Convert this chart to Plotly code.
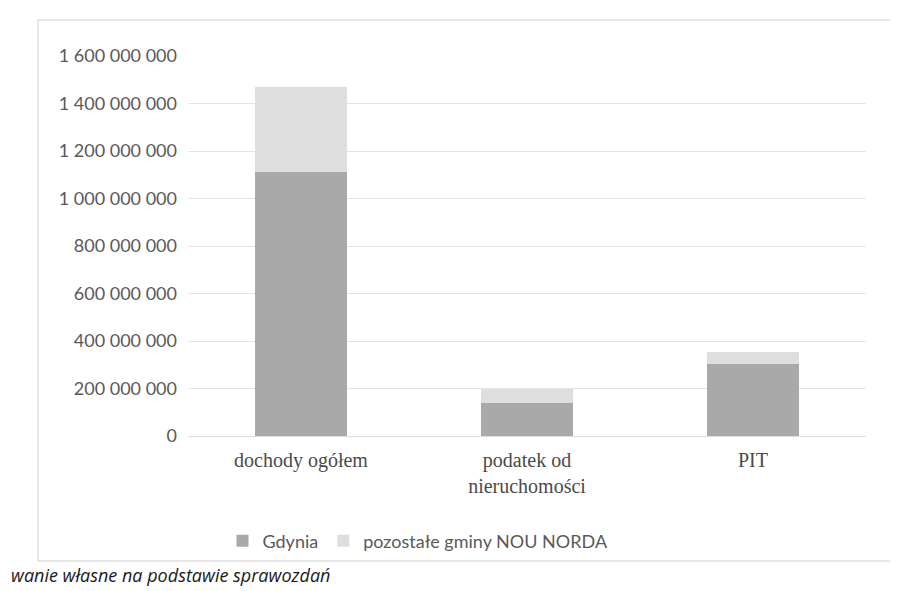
import plotly.graph_objects as go

categories = ["dochody ogółem", "podatek od<br>nieruchomości", "PIT"]
gdynia = [1110000000, 138000000, 305000000]
pozostale = [360000000, 62000000, 47000000]
series_names = ["Gdynia", "pozostałe gminy NOU NORDA"]
tick_vals = [0, 200000000, 400000000, 600000000, 800000000, 1000000000,
             1200000000, 1400000000, 1600000000]
tick_text = ["0", "200 000 000", "400 000 000", "600 000 000", "800 000 000",
             "1 000 000 000", "1 200 000 000", "1 400 000 000", "1 600 000 000"]
caption = "wanie własne na podstawie sprawozdań"

fig = go.Figure()
fig.add_trace(go.Bar(x=categories, y=gdynia, name=series_names[0],
                     marker=dict(color="#a9a9a9", line=dict(width=0))))
fig.add_trace(go.Bar(x=categories, y=pozostale, name=series_names[1],
                     marker=dict(color="#dedede", line=dict(width=0))))

# plot area in pixels
L, R, T, B = 180, 40, 48, 163
pw = 898 - L - R
ph = 591 - T - B

def px(x):
    return (x - L) / pw

def py(y):
    return (591 - B - y) / ph

fig.update_layout(
    barmode="stack",
    bargap=0.59,
    width=898, height=591,
    margin=dict(l=L, r=R, t=T, b=B, pad=0),
    paper_bgcolor="white", plot_bgcolor="white",
    font=dict(family="Lato, 'Open Sans', sans-serif", color="#595959"),
    xaxis=dict(showgrid=False, showline=False, ticks="",
               tickfont=dict(family="'Liberation Serif', 'DejaVu Serif', serif",
                             size=20, color="#4a4a4a"),
               ticklabelstandoff=10),
    yaxis=dict(range=[0, 1600000000], tickvals=tick_vals, ticktext=tick_text,
               showgrid=True, gridcolor="#e4e4e4", gridwidth=1,
               zeroline=True, zerolinecolor="#dcdcdc", zerolinewidth=1,
               showline=False, ticks="",
               tickfont=dict(family="Lato, 'Open Sans', sans-serif", size=18, color="#595959"),
               ticklabelstandoff=10),
    legend=dict(orientation="h", x=px(410), xanchor="center", y=py(533), yanchor="middle",
                font=dict(family="Lato, 'Open Sans', sans-serif", size=18, color="#595959"),
                itemwidth=30, bgcolor="rgba(0,0,0,0)", traceorder="normal"),
    shapes=[dict(type="rect", xref="paper", yref="paper",
                 x0=px(30), x1=px(887), y0=py(553), y1=py(12),
                 line=dict(color="#cfcfcf", width=1), fillcolor="rgba(0,0,0,0)",
                 layer="below")],
    annotations=[dict(text="<i>" + caption + "</i>", xref="paper", yref="paper",
                      x=px(2), y=py(567), xanchor="left", yanchor="middle",
                      showarrow=False, borderpad=0,
                      font=dict(family="'Open Sans', Lato, sans-serif", size=18, color="#1a1a1a"))],
)

fig.write_html("out.html")
